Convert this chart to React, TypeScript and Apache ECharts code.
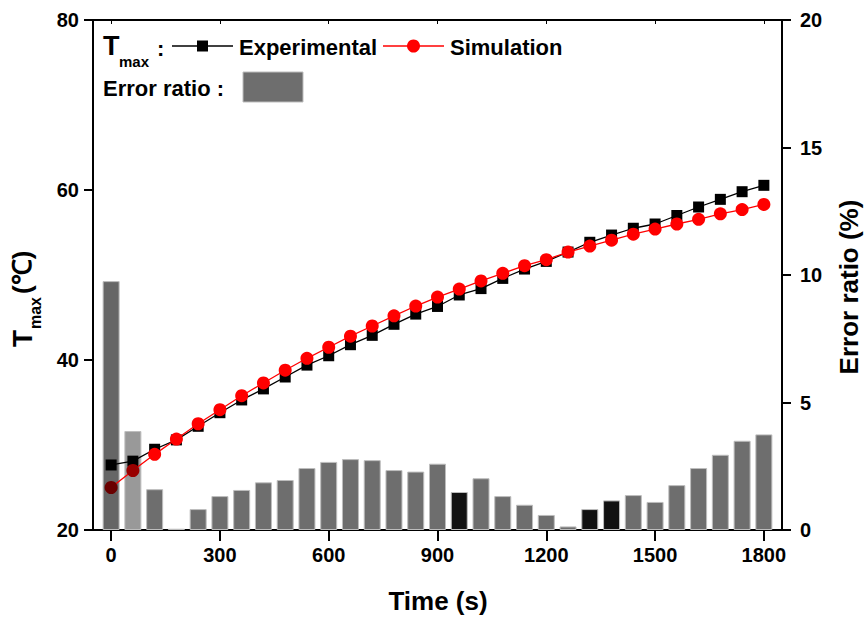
import React, { useEffect, useRef } from "react";
import * as echarts from "echarts";

// Time (s)
const times = [0, 60, 120, 180, 240, 300, 360, 420, 480, 540, 600, 660, 720, 780, 840, 900, 960, 1020, 1080, 1140, 1200, 1260, 1320, 1380, 1440, 1500, 1560, 1620, 1680, 1740, 1800];
// Tmax experimental (°C)
const experimental = [27.65, 28.1, 29.5, 30.6, 32.2, 33.8, 35.3, 36.6, 38.0, 39.4, 40.5, 41.8, 42.9, 44.2, 45.4, 46.3, 47.65, 48.4, 49.6, 50.7, 51.6, 52.7, 53.85, 54.7, 55.5, 56.0, 57.0, 58.0, 58.9, 59.8, 60.55];
// Tmax simulation (°C)
const simulation = [25.0, 27.0, 28.9, 30.7, 32.5, 34.15, 35.8, 37.3, 38.8, 40.2, 41.5, 42.8, 44.0, 45.2, 46.35, 47.4, 48.35, 49.3, 50.2, 51.1, 51.8, 52.7, 53.4, 54.1, 54.8, 55.4, 56.0, 56.55, 57.2, 57.7, 58.3];
// Error ratio (%)
const errorRatio = [9.76, 3.88, 1.6, 0.05, 0.82, 1.33, 1.57, 1.87, 1.96, 2.43, 2.67, 2.78, 2.74, 2.35, 2.29, 2.6, 1.49, 2.03, 1.33, 0.99, 0.59, 0.14, 0.82, 1.16, 1.37, 1.1, 1.76, 2.43, 2.95, 3.5, 3.75];
// Tick labels
const xTicks = [0, 300, 600, 900, 1200, 1500, 1800];

const FONT = '"Liberation Sans", Arial, Helvetica, sans-serif';

const barColor = (i: number) => {
  if (i === 0) return "#666666";
  if (i === 1) return "#999999";
  if (i === 3) return "#e2e2e2";
  if (i === 16 || i === 22 || i === 23) return "#121212";
  return "#6e6e6e";
};
const simColor = (i: number) => (i === 0 ? "#6a0000" : i === 1 ? "#990000" : "#ff0000");

const txt = (text: string, x: number, y: number, size: number, extra: any = {}) => ({
  type: "text",
  x,
  y,
  silent: true,
  style: {
    text,
    fontSize: size,
    fontWeight: "bold",
    fontFamily: FONT,
    fill: "#000",
    align: extra.align || "left",
    textAlign: extra.align || "left",
    verticalAlign: "middle",
    textVerticalAlign: "middle",
  },
});

export default function App() {
  const ref = useRef<HTMLDivElement>(null);
  useEffect(() => {
    if (!ref.current) return;
    const chart = echarts.init(ref.current, null, { renderer: "svg" });
    const axisLine = { show: true, onZero: false, lineStyle: { color: "#000", width: 2 } };
    const labelStyle = { color: "#000", fontSize: 20, fontWeight: "bold", fontFamily: FONT };
    chart.setOption({
      animation: false,
      backgroundColor: "#fff",
      grid: { left: 93, right: 85, top: 20, bottom: 87, containLabel: false },
      xAxis: [
        {
          type: "value",
          position: "bottom",
          min: -50,
          max: 1850,
          axisLine,
          axisTick: { show: true, customValues: xTicks, length: 11, inside: false, lineStyle: { color: "#000", width: 2 } },
          axisLabel: { show: true, customValues: xTicks, margin: 15, formatter: (v: number) => String(v), ...labelStyle },
          splitLine: { show: false },
        },
        {
          type: "value",
          position: "top",
          min: -50,
          max: 1850,
          axisLine,
          axisTick: { show: true, customValues: xTicks, length: 4, inside: true, lineStyle: { color: "#000", width: 1 } },
          axisLabel: { show: false },
          splitLine: { show: false },
        },
      ],
      yAxis: [
        {
          type: "value",
          position: "left",
          min: 20,
          max: 80,
          interval: 20,
          axisLine,
          axisTick: { show: true, length: 9, lineStyle: { color: "#000", width: 2 } },
          axisLabel: { margin: 14, ...labelStyle },
          splitLine: { show: false },
        },
        {
          type: "value",
          position: "right",
          min: 0,
          max: 20,
          interval: 5,
          axisLine,
          axisTick: { show: true, length: 9, lineStyle: { color: "#000", width: 2 } },
          axisLabel: { margin: 18, ...labelStyle },
          splitLine: { show: false },
        },
      ],
      series: [
        {
          name: "Error ratio",
          type: "bar",
          xAxisIndex: 0,
          yAxisIndex: 1,
          barWidth: 17,
          z: 1,
          data: times.map((t, i) => ({
            value: [t, errorRatio[i]],
            itemStyle: { color: barColor(i), borderColor: "#bdbdbd", borderWidth: 1 },
          })),
        },
        {
          name: "Experimental",
          type: "line",
          xAxisIndex: 0,
          yAxisIndex: 0,
          z: 3,
          symbol: "rect",
          symbolSize: 11,
          lineStyle: { color: "#000", width: 1.3 },
          itemStyle: { color: "#000" },
          data: times.map((t, i) => [t, experimental[i]]),
        },
        {
          name: "Simulation",
          type: "line",
          xAxisIndex: 0,
          yAxisIndex: 0,
          z: 4,
          symbol: "circle",
          symbolSize: 13,
          lineStyle: { color: "#ff0000", width: 1.3 },
          itemStyle: { color: "#ff0000" },
          data: times.map((t, i) => ({ value: [t, simulation[i]], itemStyle: { color: simColor(i) } })),
        },
      ],
      graphic: [
        // legend row 1
        txt("T", 103, 46, 27),
        txt("max", 119, 61, 15),
        txt(":", 157, 48, 22),
        { type: "line", silent: true, shape: { x1: 172, y1: 46, x2: 233, y2: 46 }, style: { stroke: "#000", lineWidth: 1.3 } },
        { type: "rect", silent: true, shape: { x: 197, y: 40.5, width: 11, height: 11 }, style: { fill: "#000" } },
        txt("Experimental", 239, 47, 22),
        { type: "line", silent: true, shape: { x1: 383, y1: 46, x2: 444, y2: 46 }, style: { stroke: "#ff0000", lineWidth: 1.3 } },
        { type: "circle", silent: true, shape: { cx: 413.5, cy: 46, r: 6.5 }, style: { fill: "#ff0000" } },
        txt("Simulation", 450, 47, 22),
        // legend row 2
        txt("Error ratio :", 103, 88, 22),
        { type: "rect", silent: true, shape: { x: 243, y: 72, width: 60, height: 30 }, style: { fill: "#6e6e6e", stroke: "#bdbdbd", lineWidth: 1 } },
        // axis titles
        txt("Time (s)", 438, 601, 26, { align: "center" }),
        {
          type: "group",
          x: 22,
          y: 296,
          rotation: Math.PI / 2,
          children: [
            txt("T", -51, 0, 28),
            txt("max", -33, 13, 16),
            txt("(℃)", 2, 0, 26),
          ],
        },
        {
          type: "group",
          x: 849,
          y: 287,
          rotation: Math.PI / 2,
          children: [txt("Error ratio (%)", 0, 0, 26, { align: "center" })],
        },
      ],
    });
    return () => chart.dispose();
  }, []);
  return <div ref={ref} style={{ width: 867, height: 617, position: "absolute", left: 0, top: 0 }} />;
}
